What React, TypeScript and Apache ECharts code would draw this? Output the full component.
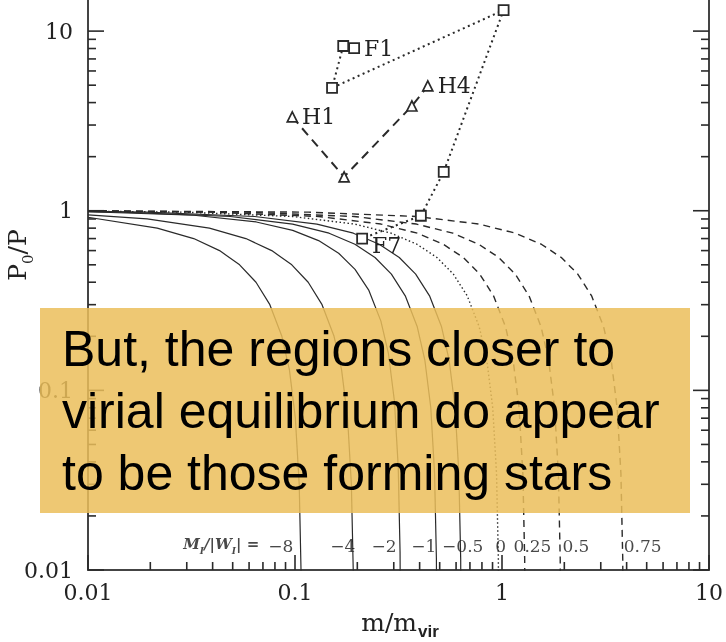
import React, { useEffect, useRef } from 'react';
import * as echarts from 'echarts';

// Axis extents
const X_MIN = 0.01;
const X_MAX = 10;
const Y_MIN = 0.01;
const Y_MAX = 14.9;

// Tick values
const xMajorTicks = [0.01, 0.1, 1, 10];
const xMinorTicks = [0.02, 0.03, 0.04, 0.05, 0.06, 0.07, 0.08, 0.09, 0.2, 0.3, 0.4, 0.5, 0.6, 0.7, 0.8, 0.9, 2, 3, 4, 5, 6, 7, 8, 9];
const yMajorTicks = [0.01, 0.1, 1, 10];
const yMinorTicks = [0.02, 0.03, 0.04, 0.05, 0.06, 0.07, 0.08, 0.09, 0.2, 0.3, 0.4, 0.5, 0.6, 0.7, 0.8, 0.9, 2, 3, 4, 5, 6, 7, 8, 9];

// Model curves P0/P vs m/m_vir for M_I/|W_I| values
const curveM8 = [[0.01, 0.92], [0.0216, 0.8], [0.0324, 0.7], [0.0432, 0.6], [0.054, 0.5], [0.0648, 0.4], [0.0756, 0.3], [0.0864, 0.2], [0.094, 0.13], [0.1004, 0.07], [0.1048, 0.03], [0.1069, 0.0101], [0.108, 0.001]];
const curveM4 = [[0.01, 0.948], [0.0193, 0.9], [0.0386, 0.8], [0.0579, 0.7], [0.0772, 0.6], [0.0965, 0.5], [0.1158, 0.4], [0.1351, 0.3], [0.1544, 0.2], [0.1679, 0.13], [0.1795, 0.07], [0.1872, 0.03], [0.1911, 0.0101], [0.193, 0.001]];
const curveM2 = [[0.01, 0.987], [0.0325, 0.944], [0.065, 0.866], [0.0975, 0.778], [0.13, 0.682], [0.1625, 0.58], [0.195, 0.472], [0.2275, 0.36], [0.26, 0.243], [0.2828, 0.16], [0.3023, 0.087], [0.3153, 0.0374], [0.3218, 0.0125], [0.325, 0.001]];
const curveM1 = [[0.01, 0.989], [0.0146, 0.982], [0.0487, 0.929], [0.0974, 0.843], [0.1461, 0.75], [0.1948, 0.651], [0.2435, 0.549], [0.2922, 0.444], [0.3409, 0.336], [0.3896, 0.226], [0.4237, 0.148], [0.4529, 0.08], [0.4724, 0.0344], [0.4821, 0.0115], [0.487, 0.001]];
const curveM05 = [[0.01, 0.992], [0.0191, 0.982], [0.0638, 0.929], [0.1276, 0.843], [0.1914, 0.75], [0.2552, 0.651], [0.319, 0.549], [0.3828, 0.444], [0.4466, 0.336], [0.5104, 0.226], [0.5551, 0.148], [0.5933, 0.08], [0.6189, 0.0344], [0.6316, 0.0115], [0.638, 0.001]];
const curve0 = [[0.01, 0.995], [0.0291, 0.982], [0.097, 0.929], [0.194, 0.843], [0.291, 0.75], [0.388, 0.651], [0.485, 0.549], [0.582, 0.444], [0.679, 0.336], [0.776, 0.226], [0.8439, 0.148], [0.9021, 0.08], [0.9409, 0.0344], [0.9603, 0.0115], [0.97, 0.001]];
const curveP025 = [[0.01, 0.996], [0.039, 0.982], [0.13, 0.929], [0.26, 0.843], [0.39, 0.75], [0.52, 0.651], [0.65, 0.549], [0.78, 0.444], [0.91, 0.336], [1.04, 0.226], [1.131, 0.148], [1.209, 0.08], [1.261, 0.0344], [1.287, 0.0115], [1.3, 0.001]];
const curveP05 = [[0.01, 0.998], [0.0579, 0.982], [0.193, 0.929], [0.386, 0.843], [0.579, 0.75], [0.772, 0.651], [0.965, 0.549], [1.158, 0.444], [1.351, 0.336], [1.544, 0.226], [1.679, 0.148], [1.795, 0.08], [1.872, 0.0344], [1.911, 0.0115], [1.93, 0.001]];
const curveP075 = [[0.01, 0.999], [0.1161, 0.982], [0.387, 0.929], [0.774, 0.843], [1.161, 0.75], [1.548, 0.651], [1.935, 0.549], [2.322, 0.444], [2.709, 0.336], [3.096, 0.226], [3.367, 0.148], [3.599, 0.08], [3.754, 0.0344], [3.831, 0.0115], [3.87, 0.001]];

// Curve labels (text, anchor m, anchor P)
const curveLabelTexts = ['−8', '−4', '−2', '−1', '−0.5', '0', '0.25', '0.5', '0.75'];
const curveLabelX = [0.0854, 0.17, 0.269, 0.419, 0.646, 0.985, 1.404, 2.275, 4.78];
const curveLabelY = 0.0136;
const ratioLabelX = 0.044;

// Observed regions
const fNames = ['F1', '', '', '', '', '', 'F7'];
const fPoints = [[0.193, 8.05], [0.171, 8.26], [0.151, 4.83], [1.018, 13.08], [0.523, 1.647], [0.4055, 0.938], [0.211, 0.699]];
const hNames = ['H1', '', '', 'H4'];
const hPoints = [[0.097, 3.33], [0.1727, 1.545], [0.367, 3.83], [0.438, 4.95]];

const INK = '#2a2a2a';
const SERIF = '"DejaVu Serif", serif';

function curveSeries(data: number[][], kind: 'solid' | 'dotted' | 'dashed') {
  const type = kind === 'solid' ? 'solid' : kind === 'dotted' ? [1.5, 2.5] : [7, 5];
  return {
    type: 'line',
    data,
    showSymbol: false,
    symbol: 'none',
    silent: true,
    clip: true,
    z: 2,
    lineStyle: { color: INK, width: kind === 'solid' ? 1.2 : 1.4, type },
  };
}

export default function App() {
  const ref = useRef<HTMLDivElement>(null);
  useEffect(() => {
    const chart = echarts.init(ref.current!, null, { renderer: 'svg' });
    const xTickData = [
      ...xMajorTicks.map((v) => [v, Y_MIN, 1]),
      ...xMinorTicks.map((v) => [v, Y_MIN, 0]),
    ];
    const yTickData = [
      ...yMajorTicks.map((v) => [X_MIN, v, 1]),
      ...yMinorTicks.map((v) => [X_MIN, v, 0]),
    ];
    const labelFmt = (v: number) => String(Number(v.toPrecision(2)));
    const option: any = {
      animation: false,
      grid: { left: 88, right: 15, top: 0, bottom: 72 },
      xAxis: {
        type: 'log',
        logBase: 10,
        min: X_MIN,
        max: X_MAX,
        axisLine: { show: true, lineStyle: { color: '#444', width: 2 } },
        axisTick: { show: false },
        splitLine: { show: false },
        axisLabel: { formatter: labelFmt, fontFamily: SERIF, fontSize: 22, color: '#222', margin: 11 },
      },
      yAxis: [
        {
          type: 'log',
          logBase: 10,
          min: Y_MIN,
          max: Y_MAX,
          axisLine: { show: true, lineStyle: { color: '#444', width: 2 } },
          axisTick: { show: false },
          splitLine: { show: false },
          axisLabel: { formatter: labelFmt, fontFamily: SERIF, fontSize: 22, color: '#222', margin: 15, showMaxLabel: false },
        },
        {
          type: 'log',
          logBase: 10,
          min: Y_MIN,
          max: Y_MAX,
          position: 'right',
          axisLine: { show: true, lineStyle: { color: '#444', width: 2 } },
          axisTick: { show: false },
          splitLine: { show: false },
          axisLabel: { show: false },
        },
      ],
      series: [
        curveSeries(curveM8, 'solid'),
        curveSeries(curveM4, 'solid'),
        curveSeries(curveM2, 'solid'),
        curveSeries(curveM1, 'solid'),
        curveSeries(curveM05, 'solid'),
        curveSeries(curve0, 'dotted'),
        curveSeries(curveP025, 'dashed'),
        curveSeries(curveP05, 'dashed'),
        curveSeries(curveP075, 'dashed'),
        {
          type: 'line',
          data: fPoints.map((p, i) => ({
            value: p,
            name: fNames[i],
            label: { show: fNames[i] !== '', offset: fNames[i] === 'F7' ? [0, 7] : [0, 0] },
          })),
          symbol: 'rect',
          symbolSize: 10,
          showSymbol: true,
          silent: true,
          z: 5,
          itemStyle: { color: '#fff', borderColor: INK, borderWidth: 1.8 },
          lineStyle: { color: INK, width: 2, type: [2, 3.5] },
          label: { position: 'right', distance: 4, formatter: '{b}', fontFamily: SERIF, fontSize: 22, color: '#222' },
        },
        {
          type: 'line',
          data: hPoints.map((p, i) => ({
            value: p,
            name: hNames[i],
            label: { show: hNames[i] !== '' },
          })),
          symbol: 'triangle',
          symbolSize: 10,
          showSymbol: true,
          silent: true,
          z: 5,
          itemStyle: { color: '#fff', borderColor: INK, borderWidth: 1.7 },
          lineStyle: { color: INK, width: 2, type: [9, 6] },
          label: { position: 'right', distance: 4, formatter: '{b}', fontFamily: SERIF, fontSize: 22, color: '#222' },
        },
        {
          type: 'scatter',
          silent: true,
          symbolSize: 1,
          z: 6,
          itemStyle: { color: 'rgba(0,0,0,0)' },
          data: curveLabelTexts.map((t, i) => ({ value: [curveLabelX[i], curveLabelY], name: t })),
          label: {
            show: true,
            position: 'inside',
            formatter: '{b}',
            fontFamily: SERIF,
            fontSize: 17,
            color: '#1a1a1a',
          },
        },
        {
          type: 'scatter',
          silent: true,
          symbolSize: 1,
          z: 6,
          itemStyle: { color: 'rgba(0,0,0,0)' },
          data: [{ value: [ratioLabelX, curveLabelY], name: 'ratio' }],
          label: {
            show: true,
            position: 'inside',
            formatter: '{m|M}{s|I}{m|/|}{m|W}{s|I}{m|| =}',
            rich: {
              m: { fontFamily: SERIF, fontStyle: 'italic', fontWeight: 'bold', fontSize: 15, color: '#1a1a1a', verticalAlign: 'bottom', padding: [0, 0, 4, 0] },
              s: { fontFamily: SERIF, fontStyle: 'italic', fontWeight: 'bold', fontSize: 9, color: '#1a1a1a', verticalAlign: 'bottom' },
            },
          },
        },
        {
          type: 'custom',
          coordinateSystem: 'cartesian2d',
          silent: true,
          clip: false,
          z: 4,
          data: xTickData,
          encode: { x: 0, y: 1 },
          renderItem: (params: any, api: any) => {
            const v = api.value(0);
            const major = api.value(2) === 1;
            const p = api.coord([v, Y_MIN]);
            const len = major ? 15 : 8;
            return {
              type: 'line',
              shape: { x1: p[0], y1: p[1], x2: p[0], y2: p[1] - len },
              style: { stroke: INK, lineWidth: 1.6 },
            };
          },
        },
        {
          type: 'custom',
          coordinateSystem: 'cartesian2d',
          silent: true,
          clip: false,
          z: 4,
          data: yTickData,
          encode: { x: 0, y: 1 },
          renderItem: (params: any, api: any) => {
            const v = api.value(1);
            const major = api.value(2) === 1;
            const pl = api.coord([X_MIN, v]);
            const pr = api.coord([X_MAX, v]);
            const len = major ? 16 : 8;
            return {
              type: 'group',
              children: [
                { type: 'line', shape: { x1: pl[0], y1: pl[1], x2: pl[0] + len, y2: pl[1] }, style: { stroke: INK, lineWidth: 1.6 } },
                { type: 'line', shape: { x1: pr[0], y1: pr[1], x2: pr[0] - len, y2: pr[1] }, style: { stroke: INK, lineWidth: 1.6 } },
              ],
            };
          },
        },
      ],
      graphic: [
        {
          type: 'text',
          x: 20,
          y: 255,
          rotation: Math.PI / 2,
          style: {
            text: '{a|P}{b|0}{a|/P}',
            align: 'center',
            verticalAlign: 'middle',
            rich: {
              a: { fontFamily: SERIF, fontSize: 25, fill: '#222', verticalAlign: 'bottom', padding: [0, 0, 5, 0] },
              b: { fontFamily: SERIF, fontSize: 15, fill: '#222', verticalAlign: 'bottom' },
            },
          },
        },
        {
          type: 'text',
          x: 400,
          y: 625,
          style: {
            text: '{a|m/m}{b|vir}',
            align: 'center',
            verticalAlign: 'middle',
            rich: {
              a: { fontFamily: SERIF, fontSize: 25, fill: '#222', verticalAlign: 'bottom', padding: [0, 1, 5, 0] },
              b: { fontFamily: '"Liberation Sans", Arial, sans-serif', fontWeight: 'bold', fontSize: 17, fill: '#222', verticalAlign: 'bottom' },
            },
          },
        },
        {
          type: 'rect',
          z: 100,
          shape: { x: 40, y: 308, width: 650, height: 205 },
          style: { fill: 'rgba(235,190,90,0.85)' },
        },
        {
          type: 'text',
          z: 101,
          x: 62,
          y: 318,
          style: {
            text: 'But, the regions closer to\nvirial equilibrium do appear\nto be those forming stars',
            fontFamily: '"Liberation Sans", Arial, sans-serif',
            fontSize: 50,
            lineHeight: 62,
            fill: '#000',
            align: 'left',
            verticalAlign: 'top',
          },
        },
      ],
    };
    chart.setOption(option);
    return () => chart.dispose();
  }, []);
  return <div ref={ref} style={{ position: 'fixed', left: 0, top: 0, width: 726, height: 642 }} />;
}
